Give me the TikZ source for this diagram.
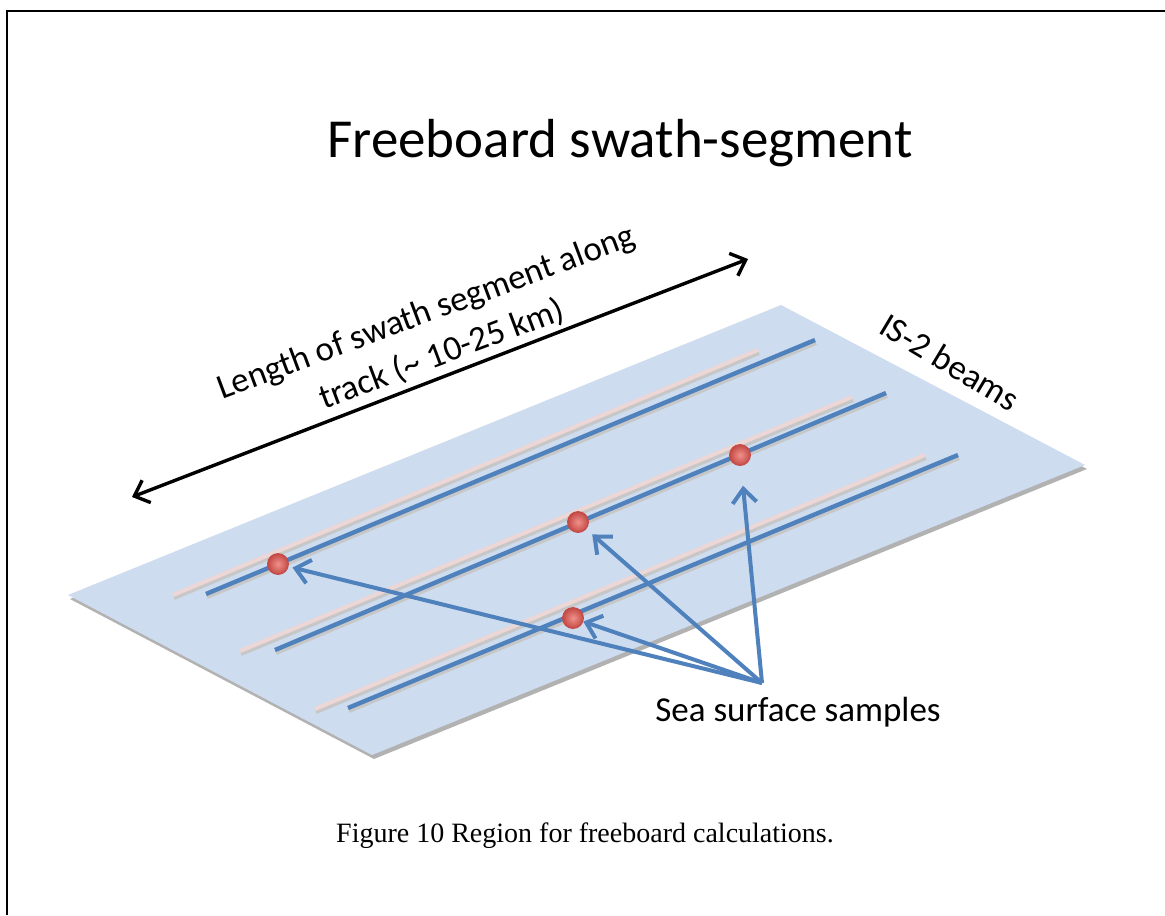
\documentclass[tikz,border=0pt]{standalone}
\usepackage{fontspec}
\setmainfont{Carlito}
\newfontfamily\capfont{Liberation Serif}
\usepackage{tikz}
\usetikzlibrary{arrows.meta}
\definecolor{planeblue}{RGB}{205,220,238}
\definecolor{beamblue}{RGB}{79,129,189}
\definecolor{beampink}{RGB}{236,214,214}
\definecolor{dotred}{RGB}{236,118,110}
\definecolor{dotrim}{RGB}{196,72,68}
\tikzset{
    beam-shadow/.style = {draw=black!22, line width=2pt},
    beam-pink/.style = {draw=beampink, line width=2pt},
    beam-blue/.style = {draw=beamblue, line width=2.2pt},
    sample-dot/.style = {circle, inner color=dotred!80!white, outer color=dotrim, draw=dotrim, thin, minimum size=10.5pt, inner sep=0pt},
    pointer/.style = {draw=beamblue, line width=2pt, -{Straight Barb[length=7pt, width=12pt]}},
    span-arrow/.style = {draw=black, line width=1.7pt, {Straight Barb[length=6.5pt, width=12pt]}-{Straight Barb[length=6.5pt, width=12pt]}},
    label-text/.style = {font=\fontsize{17.5}{22.3}\selectfont, align=center, inner sep=0pt},
}

\begin{document}
\begin{tikzpicture}[x=0.5pt, y=-0.5pt]
\useasboundingbox (0,0) rectangle (1165,915);
\draw[line width=1pt] (7,915) -- (7,11) -- (1165,11);

\node[font=\fontsize{27.5}{33}\selectfont] (title) at (620,143) {Freeboard swath-segment};

% plane with its shadow
\fill[black!30] (70,599) -- (783,309) -- (1087,469) -- (374,759) -- cycle;
\fill[planeblue] (68,595) -- (781,305) -- (1085,465) -- (372,755) -- cycle;

% beams, shadow first
\foreach \ax/\ay/\bx/\by in {173/595/758/350, 206/594/815/340, 240/651/852/397, 275/650/886/393, 315/709/925/455, 348/708/958/455}
    \draw[beam-shadow] (\ax+1,\ay+3) -- (\bx+1,\by+3);
\draw[beam-pink] (173,595) -- (758,350);
\draw[beam-blue] (206,594) -- (815,340);
\draw[beam-pink] (240,651) -- (852,397);
\draw[beam-blue] (275,650) -- (886,393);
\draw[beam-pink] (315,709) -- (925,455);
\draw[beam-blue] (348,708) -- (958,455);

% samples
\node[sample-dot] (d1) at (278,564) {};
\node[sample-dot] (d2) at (578,522) {};
\node[sample-dot] (d3) at (740,455) {};
\node[sample-dot] (d4) at (573,618) {};

\coordinate (src) at (762,683);
\node[label-text] (samples) at (798,712) {Sea surface samples};
\draw[pointer, shorten >=2pt] (src) -- (d1);
\draw[pointer, shorten >=4pt] (src) -- (d2);
\draw[pointer, shorten >=10pt] (src) -- (d3);
\draw[pointer] (src) -- (d4);

% along-track length
\coordinate (lenA) at (132,497);
\coordinate (lenB) at (748,259);
\draw[span-arrow] (lenA) -- (lenB);
\node[label-text, rotate=20.5] (len) at (434,334) {Length of swath segment along\\track (\textasciitilde{} 10-25 km)};

\node[label-text, rotate=-31] (beams) at (950,362) {IS-2 beams};

\node[font=\capfont\fontsize{14}{16}\selectfont] (caption) at (585,836) {Figure 10 Region for freeboard calculations.};
\end{tikzpicture}
\end{document}
